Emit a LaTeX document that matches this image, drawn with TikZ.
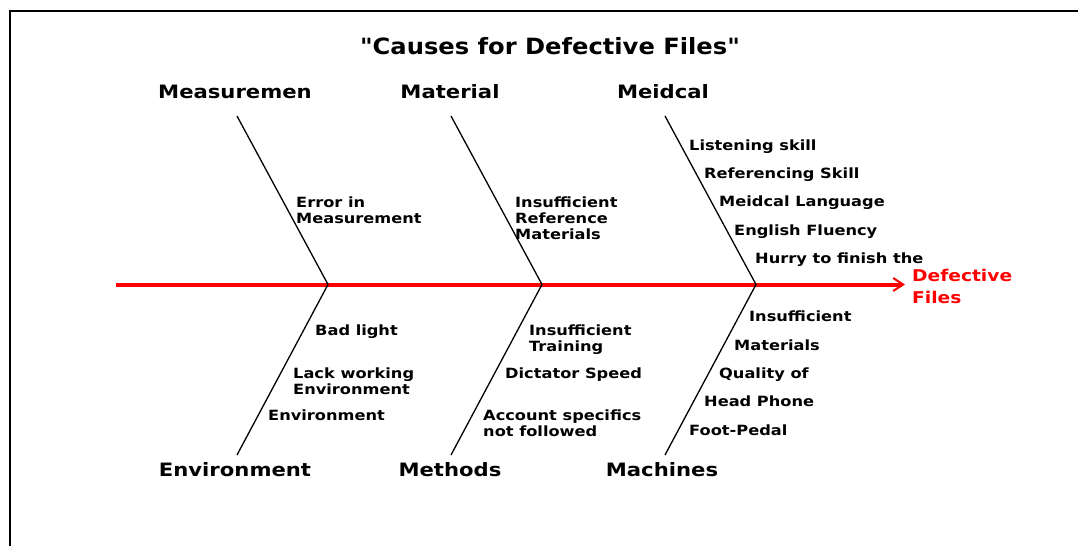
\documentclass[tikz,border=0pt]{standalone}
\usepackage{fontspec}
\newfontfamily\titlef{DejaVu Sans Bold}[FakeStretch=1.08]
\newfontfamily\labf{DejaVu Sans Bold}[FakeStretch=1.15]
\usetikzlibrary{arrows.meta}
\tikzset{
  cat/.style={font=\labf\fontsize{18.4}{20}\selectfont, anchor=base, inner sep=0pt},
  sub/.style={font=\labf\fontsize{14.1}{16}\selectfont, anchor=north west, inner sep=0pt, align=left},
  effect/.style={font=\labf\fontsize{16.2}{22}\selectfont, anchor=north west, inner sep=0pt, align=left, text=red},
  bone/.style={line width=1.3pt, black},
  spine/.style={red, line width=4pt, -{Straight Barb[length=10pt,width=13pt,line width=2pt]}},
  frame/.style={line width=2pt, black}
}
\begin{document}
\begin{tikzpicture}[x=1pt,y=-1pt]
\useasboundingbox (0,0) rectangle (1078,546);
% frame
\coordinate (fa) at (9.5,546);
\coordinate (fb) at (9.5,10.5);
\coordinate (fc) at (1078,10.5);
\draw[frame] (fa) -- (fb) -- (fc);
% title
\node[font=\titlef\fontsize{22.4}{26}\selectfont, anchor=base, inner sep=0pt] (title) at (550,54) {"Causes for Defective Files"};
% categories
\node[cat] (meas) at (235,98) {Measuremen};
\node[cat] (mat) at (450,98) {Material};
\node[cat] (med) at (663,98) {Meidcal};
\node[cat] (env) at (235,476) {Environment};
\node[cat] (meth) at (450,476) {Methods};
\node[cat] (mach) at (662,476) {Machines};
% bone coordinates
\coordinate (t1) at (237,116);
\coordinate (t2) at (451,116);
\coordinate (t3) at (665,116);
\coordinate (j1) at (328,284.5);
\coordinate (j2) at (542,284.5);
\coordinate (j3) at (756,284.5);
\coordinate (b1) at (237,455);
\coordinate (b2) at (451,455);
\coordinate (b3) at (665,455);
\coordinate (s0) at (116,284.5);
\coordinate (s1) at (905,284.5);
% spine
\draw[spine] (s0) -- (s1);
% bones
\draw[bone] (t1) -- (j1) -- (b1);
\draw[bone] (t2) -- (j2) -- (b2);
\draw[bone] (t3) -- (j3) -- (b3);
% effect
\node[effect] (eff) at (912,269) {Defective\\Files};
% sub causes top
\node[sub] (c1) at (296,196.5) {Error in\\Measurement};
\node[sub] (c2) at (515,196.5) {Insufficient\\Reference\\Materials};
\node[sub] (c3) at (689,139.5) {Listening skill};
\node[sub] (c4) at (704,167.5) {Referencing Skill};
\node[sub] (c5) at (719,195.5) {Meidcal Language};
\node[sub] (c6) at (734,224.5) {English Fluency};
\node[sub] (c7) at (755,252.5) {Hurry to finish the};
% sub causes bottom
\node[sub] (d1) at (315,324.5) {Bad light};
\node[sub] (d2) at (293,367.5) {Lack working\\Environment};
\node[sub] (d3) at (268,409.5) {Environment};
\node[sub] (d4) at (529,324.5) {Insufficient\\Training};
\node[sub] (d5) at (505,367.5) {Dictator Speed};
\node[sub] (d6) at (483,409.5) {Account specifics\\not followed};
\node[sub] (d7) at (749,310.5) {Insufficient};
\node[sub] (d8) at (734,339.5) {Materials};
\node[sub] (d9) at (719,367.5) {Quality of};
\node[sub] (d10) at (704,395.5) {Head Phone};
\node[sub] (d11) at (689,424.5) {Foot-Pedal};
\end{tikzpicture}
\end{document}
